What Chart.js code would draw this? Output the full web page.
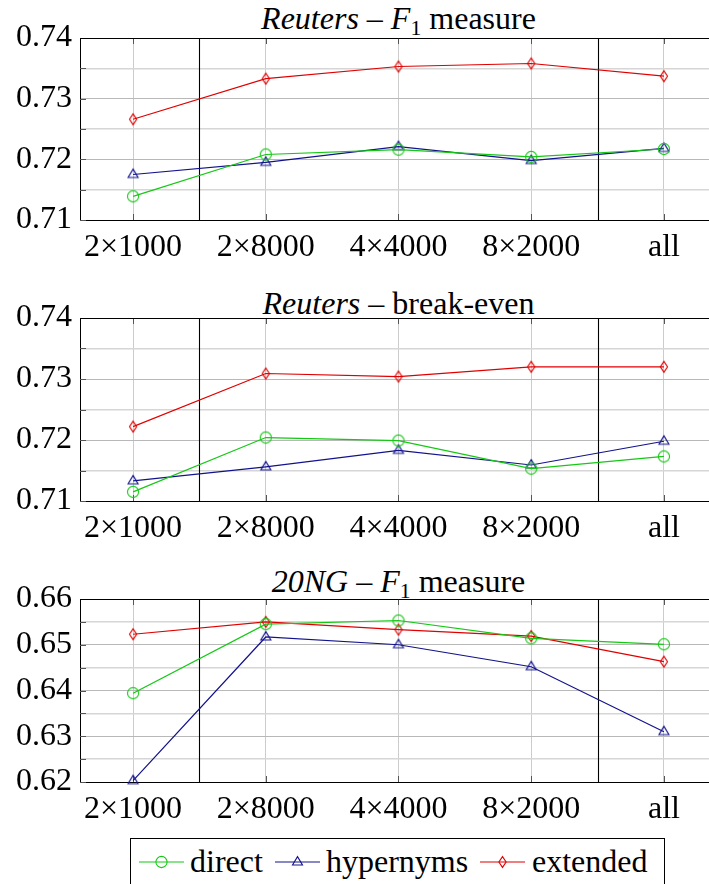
<!DOCTYPE html>
<html>
<head>
<meta charset="utf-8">
<script src="https://cdn.jsdelivr.net/npm/chart.js@4/dist/chart.umd.min.js"></script>
<style>
  body { margin: 0; background: #fff; }
  #wrap { position: relative; width: 709px; height: 884px; overflow: hidden; background: #fff;
          font-family: "Liberation Serif", "DejaVu Serif", "Tinos", "Times New Roman", serif; color: #000; }
  .title { position: absolute; left: 80px; width: 637px; text-align: center; font-size: 32px;
           line-height: 1; white-space: nowrap; }
  .sub { font-size: 0.68em; position: relative; top: 0.28em; }
  .cv { position: absolute; left: 0; width: 717px; }
  #legend { position: absolute; left: 130px; top: 838px; width: 535px; height: 90px;
            border: 1px solid #000; box-sizing: border-box; }
  .lg { position: absolute; font-size: 32px; line-height: 1; white-space: nowrap; }
  .lgsvg { position: absolute; }
</style>
</head>
<body>
<div id="wrap">
  <div class="title" style="top:2px"><i>Reuters</i> – <i>F</i><span class="sub">1</span> measure</div>
  <canvas id="c1" class="cv" width="717" height="247" style="top:18px;height:247px"></canvas>

  <div class="title" style="top:287px"><i>Reuters</i> – break-even</div>
  <canvas id="c2" class="cv" width="717" height="248" style="top:298px;height:248px"></canvas>

  <div class="title" style="top:565px"><i>20NG</i> – <i>F</i><span class="sub">1</span> measure</div>
  <canvas id="c3" class="cv" width="717" height="248" style="top:579px;height:248px"></canvas>

  <div id="legend"></div>
</div>
<script>
// ---------- data ----------
const categories = ['2×1000', '2×8000', '4×4000', '8×2000', 'all'];
const seriesNames = ['direct', 'hypernyms', 'extended'];

const reutersF1Direct    = [0.7139, 0.7208, 0.7216, 0.7204, 0.7217];
const reutersF1Hypernyms = [0.7175, 0.7195, 0.7221, 0.7198, 0.7218];
const reutersF1Extended  = [0.7266, 0.7333, 0.7353, 0.7358, 0.7337];

const reutersBEDirect    = [0.7115, 0.7204, 0.7199, 0.7153, 0.7173];
const reutersBEHypernyms = [0.7133, 0.7156, 0.7183, 0.7159, 0.7198];
const reutersBEExtended  = [0.7222, 0.7309, 0.7304, 0.7320, 0.7320];

const ngF1Direct    = [0.6394, 0.6545, 0.6553, 0.6514, 0.6501];
const ngF1Hypernyms = [0.6203, 0.6517, 0.6500, 0.6452, 0.6310];
const ngF1Extended  = [0.6523, 0.6550, 0.6533, 0.6519, 0.6463];

const reutersYTicks = ['0.71', '0.72', '0.73', '0.74'];
const ngYTicks      = ['0.62', '0.63', '0.64', '0.65', '0.66'];
const groupBreaks   = [0.5, 3.5];

// ---------- styling ----------
const COLORS = { direct: '#14c814', hypernyms: '#12128c', extended: '#e00000' };
const MARKERS = { direct: 'circle', hypernyms: 'triangle', extended: 'diamond' };
const FONT = { family: '"Liberation Serif", "DejaVu Serif", "Tinos", "Times New Roman", serif', size: 32 };

function makeMarker(kind, color) {
  const c = document.createElement('canvas');
  c.width = 16; c.height = 16;
  const g = c.getContext('2d');
  g.strokeStyle = color; g.lineWidth = 1.1;
  const m = 8;
  g.beginPath();
  if (kind === 'circle') {
    g.arc(m, m, 5.6, 0, Math.PI * 2);
  } else if (kind === 'triangle') {
    g.moveTo(m, m - 5.4); g.lineTo(m + 5, m + 3); g.lineTo(m - 5, m + 3); g.closePath();
  } else {
    g.moveTo(m, m - 5.4); g.lineTo(m + 3.6, m); g.lineTo(m, m + 5.4); g.lineTo(m - 3.6, m); g.closePath();
  }
  g.stroke();
  return c;
}

const framePlugin = {
  id: 'frame',
  beforeDatasetsDraw(chart) {
    const { ctx, chartArea: a, scales } = chart;
    const xs = scales.x, ys = scales.y;
    ctx.save();
    ctx.strokeStyle = '#555'; ctx.lineWidth = 1;
    categories.forEach((c, i) => {
      const x = Math.round(xs.getPixelForValue(i)) + 0.5;
      ctx.beginPath();
      ctx.moveTo(x, a.bottom); ctx.lineTo(x, a.bottom - 6);
      ctx.moveTo(x, a.top); ctx.lineTo(x, a.top + 6);
      ctx.stroke();
    });
    ys.ticks.forEach(t => {
      const y = Math.round(ys.getPixelForValue(t.value)) + 0.5;
      ctx.beginPath(); ctx.moveTo(a.left, y); ctx.lineTo(a.left + 6, y);
      ctx.moveTo(a.right, y); ctx.lineTo(a.right - 6, y); ctx.stroke();
    });
    ctx.strokeStyle = '#000'; ctx.lineWidth = 1.1;
    groupBreaks.forEach(b => {
      const x = Math.round(xs.getPixelForValue(b)) + 0.5;
      ctx.beginPath(); ctx.moveTo(x, a.top); ctx.lineTo(x, a.bottom); ctx.stroke();
    });
    ctx.lineWidth = 1;
    ctx.beginPath(); ctx.moveTo(a.left, Math.round(a.top) + 0.5); ctx.lineTo(a.right, Math.round(a.top) + 0.5); ctx.stroke();
    ctx.restore();
  }
};

function makeChart(id, seriesValues, yTickLabels) {
  const majors = yTickLabels.map(Number);
  const yTicks = [];
  majors.forEach((v, i) => { yTicks.push(v); if (i < majors.length - 1) yTicks.push((v + majors[i + 1]) / 2); });
  const isMajor = v => majors.some(m => Math.abs(m - v) < 1e-7);

  const datasets = seriesNames.map((name, k) => ({
    label: name,
    data: seriesValues[k].map((v, i) => ({ x: i, y: v })),
    borderColor: COLORS[name],
    backgroundColor: 'transparent',
    borderWidth: 1.2,
    pointStyle: makeMarker(MARKERS[name], COLORS[name]),
    pointRadius: 6,
    tension: 0,
    fill: false,
    clip: false
  }));

  return new Chart(document.getElementById(id), {
    type: 'line',
    data: { datasets },
    options: {
      responsive: false,
      animation: false,
      devicePixelRatio: 1,
      layout: { autoPadding: false, padding: { top: 20, left: 0, right: 0, bottom: 0 } },
      plugins: { legend: { display: false }, tooltip: { enabled: false } },
      scales: {
        x: {
          type: 'linear', min: -0.4, max: 4.4,
          afterBuildTicks: s => { s.ticks = categories.map((c, i) => ({ value: i })); },
          afterFit: s => { s.height = 45; s.paddingLeft = 0; s.paddingRight = 0; },
          ticks: { callback: v => categories[v], font: FONT, color: '#000', padding: 8,
                   maxRotation: 0, autoSkip: false },
          grid: { color: '#cccccc', lineWidth: 1, drawTicks: false },
          border: { display: true, color: '#000', width: 1 }
        },
        y: {
          min: majors[0], max: majors[majors.length - 1],
          afterBuildTicks: s => { s.ticks = yTicks.map(v => ({ value: v })); },
          afterFit: s => { s.width = 80; s.paddingTop = 0; s.paddingBottom = 0; },
          ticks: {
            callback: v => {
              const idx = majors.findIndex(m => Math.abs(m - v) < 1e-7);
              return idx >= 0 ? yTickLabels[idx] : '';
            },
            font: FONT, color: '#000', padding: 8, autoSkip: false
          },
          grid: {
            color: c => isMajor(c.tick.value) ? '#b8b8b8' : '#d6d6d6',
            lineWidth: c => isMajor(c.tick.value) ? 1 : 1.6,
            drawTicks: false
          },
          border: { display: true, color: '#000', width: 1 }
        }
      }
    },
    plugins: [framePlugin]
  });
}

makeChart('c1', [reutersF1Direct, reutersF1Hypernyms, reutersF1Extended], reutersYTicks);
makeChart('c2', [reutersBEDirect, reutersBEHypernyms, reutersBEExtended], reutersYTicks);
makeChart('c3', [ngF1Direct, ngF1Hypernyms, ngF1Extended], ngYTicks);

// ---------- legend ----------
const legend = document.getElementById('legend');
const legendPos = [ { line: 139, text: 190 }, { line: 275, text: 326 }, { line: 480, text: 532 } ];
seriesNames.forEach((name, k) => {
  const col = COLORS[name];
  let mark = '';
  if (MARKERS[name] === 'circle') mark = `<circle cx="22.5" cy="12" r="5.6" fill="none" stroke="${col}" stroke-width="1.1"/>`;
  else if (MARKERS[name] === 'triangle') mark = `<polygon points="22.5,6.6 27.5,15 17.5,15" fill="none" stroke="${col}" stroke-width="1.1"/>`;
  else mark = `<polygon points="22.5,6.6 26.1,12 22.5,17.4 18.9,12" fill="none" stroke="${col}" stroke-width="1.1"/>`;
  const svg = document.createElement('div');
  svg.className = 'lgsvg';
  svg.style.left = (legendPos[k].line - 131) + 'px';
  svg.style.top = (862 - 12 - 839) + 'px';
  svg.innerHTML = `<svg width="45" height="24"><line x1="0" y1="12" x2="45" y2="12" stroke="${col}" stroke-width="1.2"/>${mark}</svg>`;
  legend.appendChild(svg);
  const t = document.createElement('div');
  t.className = 'lg';
  t.style.left = (legendPos[k].text - 131) + 'px';
  t.style.top = (845 - 839) + 'px';
  t.textContent = name;
  legend.appendChild(t);
});
</script>
</body>
</html>
